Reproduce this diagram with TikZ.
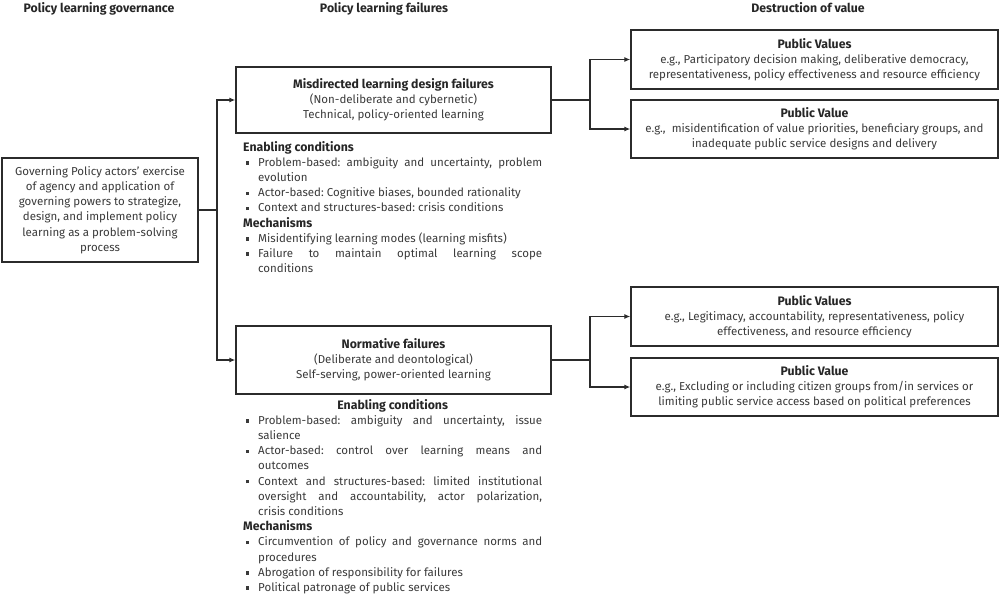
\documentclass[tikz,border=0pt]{standalone}
\usepackage{fontspec}
\setmainfont{Fira Sans}
\usepackage{enumitem}
\usetikzlibrary{arrows.meta,calc}
\definecolor{txt}{HTML}{3A3A3A}
\definecolor{ttl}{HTML}{262626}
\definecolor{ln}{HTML}{2B2B2B}
\hyphenpenalty=10000
\exhyphenpenalty=10000
\frenchspacing
\newcommand{\bsq}{\raisebox{1.8pt}{\rule{3.4pt}{3.4pt}}}
\newcommand{\tb}[1]{{\fontsize{12.3}{15.2}\selectfont\bfseries\color{ttl}#1}}
\newenvironment{blist}{\begin{itemize}[leftmargin=15pt,labelsep=9pt,itemsep=0pt,topsep=0pt,parsep=0pt,partopsep=0pt,label=\bsq]}{\end{itemize}}
\begin{document}
\begin{tikzpicture}[x=1pt,y=-1pt,
  every node/.style={font=\fontsize{11.5}{15.2}\selectfont\frenchspacing,text=txt},
  hdr/.style={font=\fontsize{12.3}{15}\selectfont\bfseries,text=ttl,inner sep=0pt},
  box/.style={draw=ln,line width=1.3pt,align=center,inner sep=2pt},
  arr/.style={draw=ln,line width=1.2pt,-{Latex[length=6pt,width=5pt]}},
  con/.style={draw=ln,line width=1.2pt},
  lst/.style={anchor=north west,inner sep=0pt,text width=299pt,align=justify}]
\useasboundingbox (0,0) rectangle (1000,594);
% headers
\node[hdr] (h1) at (99,9) {Policy learning governance};
\node[hdr] (h2) at (384,9) {Policy learning failures};
\node[hdr] (h3) at (808,8) {Destruction of value};
% left box
\node[box,minimum width=196pt,minimum height=104pt] (gov) at (100,210)
 {Governing Policy actors' exercise\\of agency and application of\\governing powers to strategize,\\design, and implement policy\\learning as a problem-solving\\process};
% middle boxes
\node[box,minimum width=315pt,minimum height=66pt] (mis) at (393.5,100)
 {\tb{Misdirected learning design failures}\\(Non-deliberate and cybernetic)\\Technical, policy-oriented learning};
\node[box,minimum width=315pt,minimum height=68pt] (nor) at (393.5,360)
 {\tb{Normative failures}\\(Deliberate and deontological)\\Self-serving, power-oriented learning};
% right boxes
\node[box,minimum width=367pt,minimum height=59pt] (pv1) at (814.5,59.5)
 {\tb{Public Values}\\e.g., Participatory decision making, deliberative democracy,\\representativeness, policy effectiveness and resource efficiency};
\node[box,minimum width=367pt,minimum height=58pt] (pv2) at (814.5,129)
 {\tb{Public Value}\\e.g.,\ \ misidentification of value priorities, beneficiary groups, and\\inadequate public service designs and delivery};
\node[box,minimum width=367pt,minimum height=59pt] (pv3) at (814.5,316.5)
 {\tb{Public Values}\\e.g., Legitimacy, accountability, representativeness, policy\\effectiveness, and resource efficiency};
\node[box,minimum width=367pt,minimum height=58pt] (pv4) at (814.5,387)
 {\tb{Public Value}\\e.g., Excluding or including citizen groups from/in services or\\limiting public service access based on political preferences};
% lists
\node[lst] (l1) at (243,141) {%
\tb{Enabling conditions}
\begin{blist}
\item Problem-based: ambiguity and uncertainty, problem\linebreak evolution
\item Actor-based: Cognitive biases, bounded rationality
\item Context and structures-based: crisis conditions
\end{blist}
\tb{Mechanisms}
\begin{blist}
\item Misidentifying learning modes (learning misfits)
\item Failure to maintain optimal learning scope\linebreak conditions
\end{blist}};
\node[lst] (l2) at (243,399) {%
\centerline{\tb{Enabling conditions}}
\begin{blist}
\item Problem-based: ambiguity and uncertainty, issue\linebreak salience
\item Actor-based: control over learning means and\linebreak outcomes
\item Context and structures-based: limited institutional\linebreak oversight and accountability, actor polarization,\linebreak crisis conditions
\end{blist}
\tb{Mechanisms}
\begin{blist}
\item Circumvention of policy and governance norms and\linebreak procedures
\item Abrogation of responsibility for failures
\item Political patronage of public services
\end{blist}};
% connectors
\coordinate (j1) at (217,210);
\coordinate (j2) at (590,100);
\coordinate (j3) at (590,360);
\draw[con] (gov.east) -- (j1);
\draw[arr] (j1) |- (mis.west);
\draw[arr] (j1) |- (nor.west);
\draw[con] (mis.east) -- (j2);
\draw[arr] (j2) |- (pv1.west);
\draw[arr] (j2) |- (pv2.west);
\draw[con] (nor.east) -- (j3);
\draw[arr] (j3) |- (pv3.west);
\draw[arr] (j3) |- (pv4.west);
\end{tikzpicture}
\end{document}
